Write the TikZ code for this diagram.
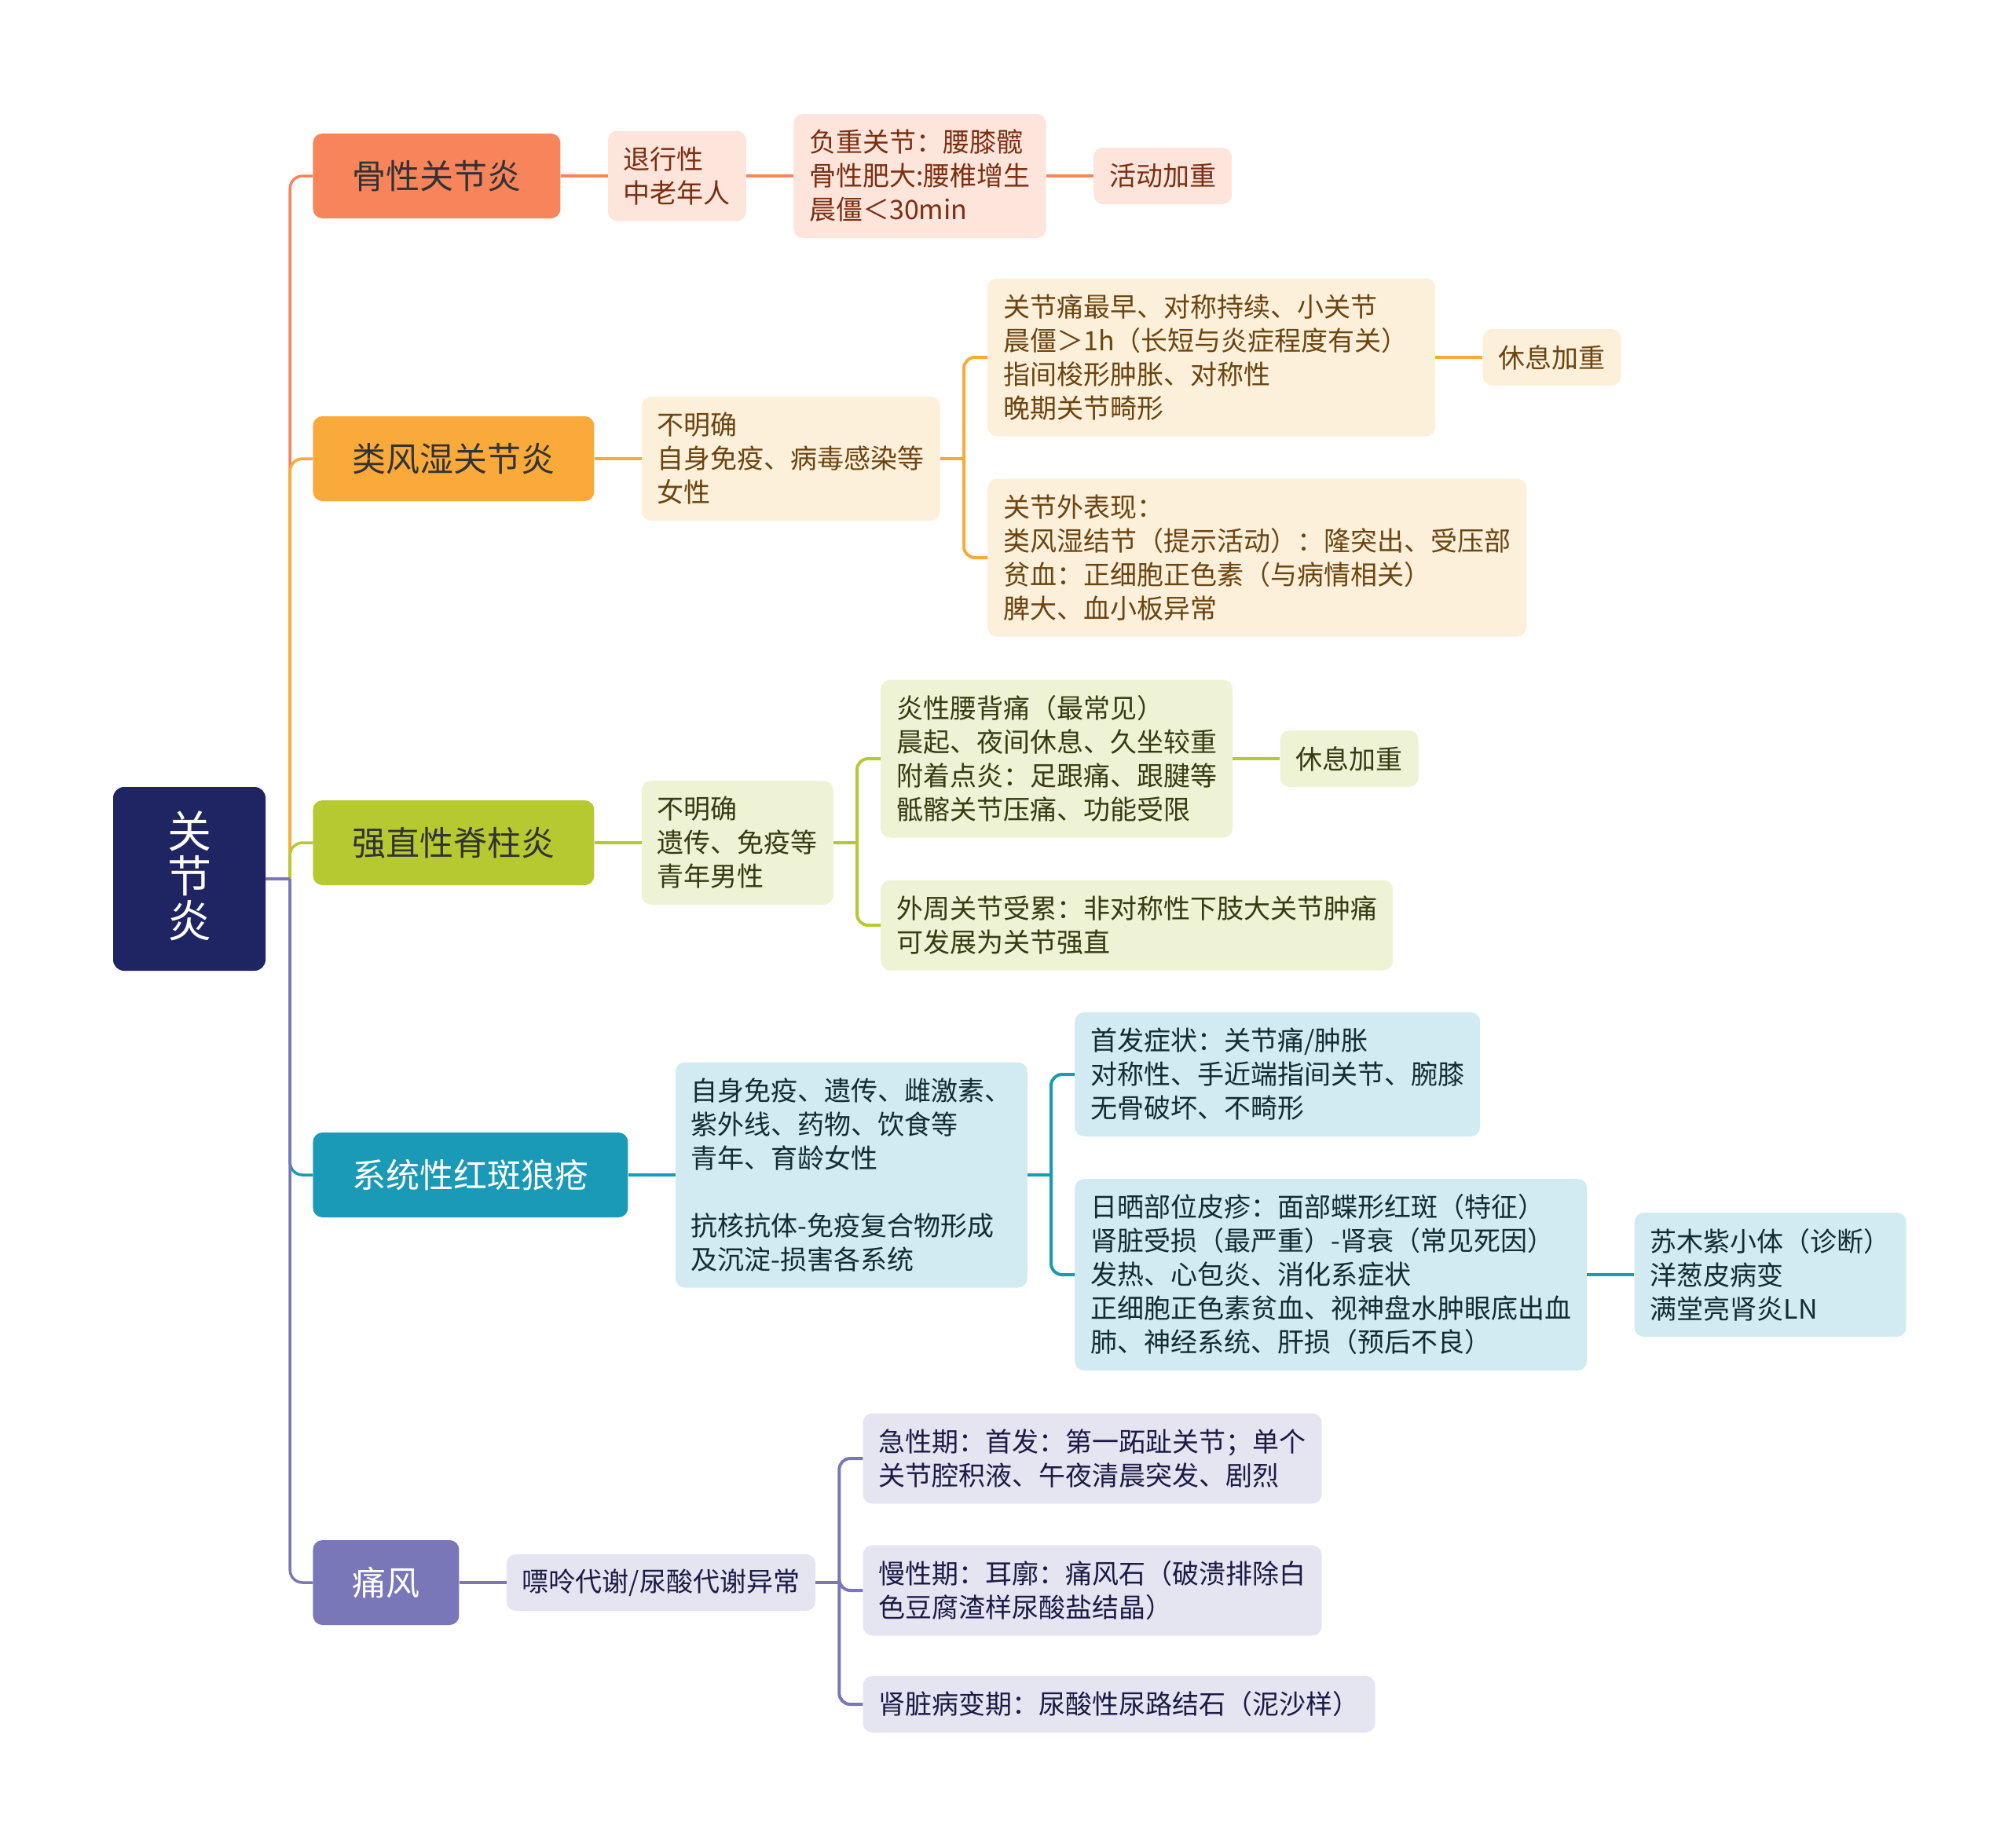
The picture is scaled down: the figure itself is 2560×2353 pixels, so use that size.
\documentclass[tikz,border=0pt]{standalone}
\usepackage{fontspec}
\setmainfont{Noto Sans CJK SC}
\usepackage{tikz}
\usetikzlibrary{
  positioning,
  calc
}
\definecolor{arRoot}{HTML}{1F2462}
\definecolor{arDark}{HTML}{333333}
\definecolor{arOA}{HTML}{F7845A}
\definecolor{arOAfill}{HTML}{FDE5DB}
\definecolor{arOAtext}{HTML}{7B2E12}
\definecolor{arRA}{HTML}{FAAA3A}
\definecolor{arRAfill}{HTML}{FDF0DA}
\definecolor{arRAtext}{HTML}{6B4511}
\definecolor{arAS}{HTML}{B6C930}
\definecolor{arASfill}{HTML}{EFF3D6}
\definecolor{arAStext}{HTML}{363B12}
\definecolor{arSLE}{HTML}{1A9AB6}
\definecolor{arSLEfill}{HTML}{D2EBF2}
\definecolor{arSLEtext}{HTML}{132B33}
\definecolor{arGout}{HTML}{7977B8}
\definecolor{arGoutfill}{HTML}{E5E4F1}
\definecolor{arGouttext}{HTML}{1B1B45}
\tikzset{
  rootnode/.style={
    fill=arRoot, rounded corners=14pt,
    minimum width=194pt, minimum height=234pt
  },
  roottitle/.style={
    text=white, align=center, inner sep=0pt,
    font=\fontsize{56}{57}\selectfont
  },
  branch/.style={
    rounded corners=12pt, minimum height=108pt, inner xsep=50pt,
    font=\fontsize{43}{52}\selectfont, text=arDark
  },
  arnode/.style={
    rounded corners=12pt, align=left, inner xsep=20pt, inner ysep=8pt,
    font=\fontsize{34}{43}\selectfont, minimum height=72pt
  },
  nlines/.style={minimum height={#1*43pt+29pt}},
  oabranch/.style={branch, fill=arOA},
  rabranch/.style={branch, fill=arRA},
  asbranch/.style={branch, fill=arAS},
  slebranch/.style={branch, fill=arSLE, text=white},
  goutbranch/.style={branch, fill=arGout, text=white},
  oaleaf/.style={arnode, fill=arOAfill, text=arOAtext},
  raleaf/.style={arnode, fill=arRAfill, text=arRAtext},
  asleaf/.style={arnode, fill=arASfill, text=arAStext},
  sleleaf/.style={arnode, fill=arSLEfill, text=arSLEtext},
  goutleaf/.style={arnode, fill=arGoutfill, text=arGouttext},
  trunk/.style={line width=3.5pt, rounded corners=16pt},
  link/.style={line width=4pt, rounded corners=14pt}
}

\begin{document}
\begin{tikzpicture}[x=1pt, y=-1pt, node distance=60pt]
  \useasboundingbox (0,0) rectangle (2560,2353);
  \node[rootnode] (root) at (241,1119) {};
  \node[roottitle] (rootname) at ($(root.center)+(0,-4)$) {关\\节\\炎};
  % main branches
  \node[oabranch, right=of root, yshift=895pt] (b1) {骨性关节炎};
  \node[rabranch, right=of root, yshift=535pt] (b2) {类风湿关节炎};
  \node[asbranch, right=of root, yshift=46pt] (b3) {强直性脊柱炎};
  \node[slebranch, right=of root, yshift=-377pt] (b4) {系统性红斑狼疮};
  \node[goutbranch, right=of root, yshift=-896pt] (b5) {痛风};
  \coordinate (hub) at ($(root.east)+(31,0)$);
  \foreach \b/\c in {b1/arOA,b2/arRA,b3/arAS,b4/arSLE,b5/arGout}{\draw[trunk, \c] (hub) |- (\b.west);}
  \draw[trunk, arGout] (root.east) -- (hub);

  % osteoarthritis
  \node[oaleaf, nlines=2, right=of b1] (a1) {退行性\\中老年人};
  \node[oaleaf, nlines=3, right=of a1] (a2) {负重关节：腰膝髋\\骨性肥大:腰椎增生\\晨僵＜30min};
  \node[oaleaf, right=of a2] (a3) {活动加重};
  \draw[link, arOA] (b1.east) -- (a1.west);
  \draw[link, arOA] (a1.east) -- (a2.west);
  \draw[link, arOA] (a2.east) -- (a3.west);

  % rheumatoid arthritis
  \node[raleaf, nlines=3, right=of b2] (r1) {不明确\\自身免疫、病毒感染等\\女性};
  \node[raleaf, nlines=4, right=of r1, yshift=129pt, text width=530pt] (r2) {关节痛最早、对称持续、小关节\\晨僵＞1h（长短与炎症程度有关）\\指间梭形肿胀、对称性\\晚期关节畸形};
  \node[raleaf, right=of r2] (r3) {休息加重};
  \node[raleaf, nlines=4, right=of r1, yshift=-126pt] (r4) {关节外表现：\\类风湿结节（提示活动）：隆突出、受压部\\贫血：正细胞正色素（与病情相关）\\脾大、血小板异常};
  \draw[link, arRA] (b2.east) -- (r1.west);
  \draw[link, arRA] (r1.east) -- ++(30,0) coordinate (rfork);
  \foreach \n in {r2,r4}{\draw[link, arRA] (rfork) |- (\n.west);}
  \draw[link, arRA] (r2.east) -- (r3.west);

  % ankylosing spondylitis
  \node[asleaf, nlines=3, right=of b3] (s1) {不明确\\遗传、免疫等\\青年男性};
  \node[asleaf, nlines=4, right=of s1, yshift=107pt] (s2) {炎性腰背痛（最常见）\\晨起、夜间休息、久坐较重\\附着点炎：足跟痛、跟腱等\\骶髂关节压痛、功能受限};
  \node[asleaf, right=of s2] (s3) {休息加重};
  \node[asleaf, nlines=2, right=of s1, yshift=-105pt] (s4) {外周关节受累：非对称性下肢大关节肿痛\\可发展为关节强直};
  \draw[link, arAS] (b3.east) -- (s1.west);
  \draw[link, arAS] (s1.east) -- ++(30,0) coordinate (sfork);
  \foreach \n in {s2,s4}{\draw[link, arAS] (sfork) |- (\n.west);}
  \draw[link, arAS] (s2.east) -- (s3.west);

  % lupus
  \node[sleleaf, nlines=6, right=of b4] (l1) {自身免疫、遗传、雌激素、\\紫外线、药物、饮食等\\青年、育龄女性\\\mbox{}\\抗核抗体-免疫复合物形成\\及沉淀-损害各系统};
  \node[sleleaf, nlines=3, right=of l1, yshift=128pt] (l2) {首发症状：关节痛/肿胀\\对称性、手近端指间关节、腕膝\\无骨破坏、不畸形};
  \node[sleleaf, nlines=5, right=of l1, yshift=-127pt] (l3) {日晒部位皮疹：面部蝶形红斑（特征）\\肾脏受损（最严重）-肾衰（常见死因）\\发热、心包炎、消化系症状\\正细胞正色素贫血、视神盘水肿眼底出血\\肺、神经系统、肝损（预后不良）};
  \node[sleleaf, nlines=3, right=of l3] (l4) {苏木紫小体（诊断）\\洋葱皮病变\\满堂亮肾炎LN};
  \draw[link, arSLE] (b4.east) -- (l1.west);
  \draw[link, arSLE] (l1.east) -- ++(30,0) coordinate (lfork);
  \foreach \n in {l2,l3}{\draw[link, arSLE] (lfork) |- (\n.west);}
  \draw[link, arSLE] (l3.east) -- (l4.west);

  % gout
  \node[goutleaf, right=of b5] (g1) {嘌呤代谢/尿酸代谢异常};
  \node[goutleaf, nlines=2, right=of g1, yshift=158pt] (g2) {急性期：首发：第一跖趾关节；单个\\关节腔积液、午夜清晨突发、剧烈};
  \node[goutleaf, nlines=2, right=of g1, yshift=-10pt] (g3) {慢性期：耳廓：痛风石（破溃排除白\\色豆腐渣样尿酸盐结晶）};
  \node[goutleaf, right=of g1, yshift=-155pt] (g4) {肾脏病变期：尿酸性尿路结石（泥沙样）};
  \draw[link, arGout] (b5.east) -- (g1.west);
  \draw[link, arGout] (g1.east) -- ++(30,0) coordinate (gfork);
  \foreach \n in {g2,g3,g4}{\draw[link, arGout] (gfork) |- (\n.west);}
\end{tikzpicture}
\end{document}
